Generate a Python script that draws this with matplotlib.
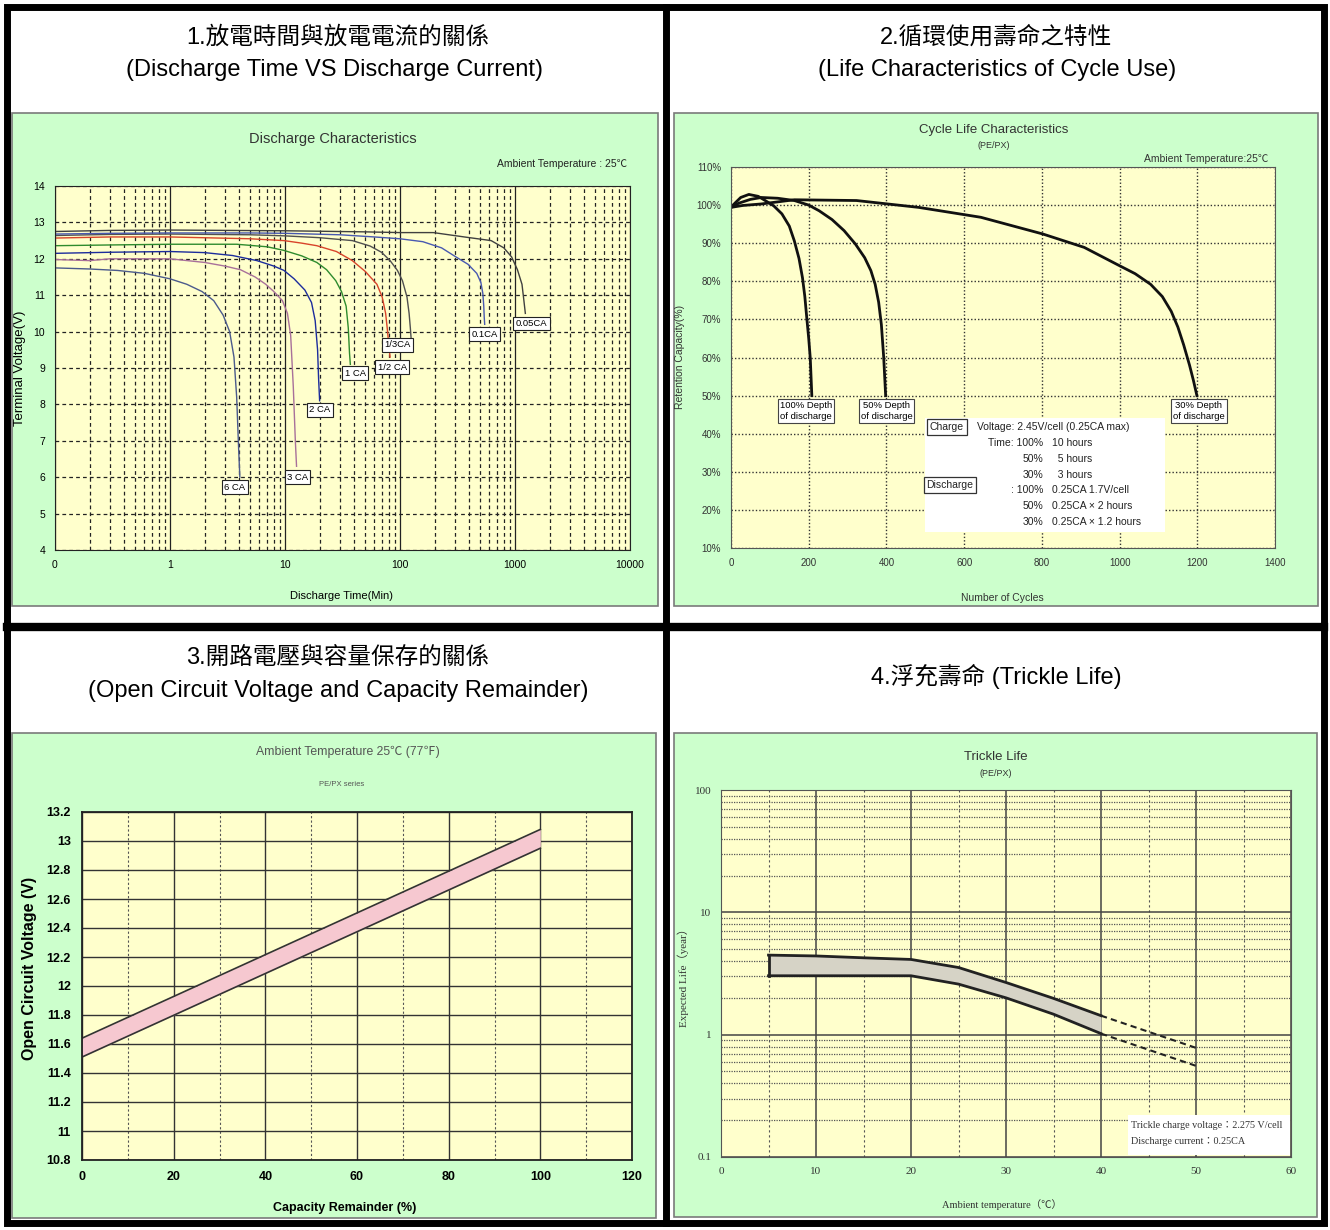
import numpy as np
import matplotlib
matplotlib.use('Agg')
import matplotlib.pyplot as plt
from matplotlib import font_manager
from matplotlib.patches import Rectangle
from matplotlib.ticker import LogLocator, MultipleLocator, NullFormatter

W, H = 1330, 1230

# ---- panel 1 : discharge curves (minutes, volts)
dis_names = ['6 CA', '3 CA', '2 CA', '1 CA', '1/2 CA', '1/3CA', '0.1CA', '0.05CA']
dis_colors = ['#4b5a8c', '#a8709a', '#1c2c9c', '#2e8b2e', '#d8442a', '#505050', '#4858b0', '#404040']
t_6ca = [0.1, 0.2, 0.35, 0.6, 1.0, 1.4, 1.9, 2.4, 2.9, 3.3, 3.6, 3.8, 3.95, 4.05]
v_6ca = [11.75, 11.72, 11.68, 11.6, 11.45, 11.3, 11.1, 10.85, 10.45, 10.0, 9.3, 8.2, 6.8, 6.0]
t_3ca = [0.1, 0.2, 0.3, 0.5, 1.0, 2.0, 3.0, 4.1, 5.5, 6.8, 8.0, 9.5, 10.5, 11.2, 11.8, 12.3, 12.6]
v_3ca = [11.98, 11.95, 12.0, 12.0, 12.0, 11.9, 11.8, 11.7, 11.5, 11.3, 11.1, 10.85, 10.5, 9.9, 8.5, 7.0, 6.3]
t_2ca = [0.1, 0.3, 1.0, 2.0, 3.5, 5.7, 8.0, 9.8, 12.0, 14.9, 17.0, 18.3, 19.2, 19.6, 20.0]
v_2ca = [12.15, 12.18, 12.2, 12.17, 12.09, 11.95, 11.8, 11.68, 11.45, 11.14, 10.8, 10.3, 9.5, 8.7, 8.1]
t_1ca = [0.1, 0.3, 1.0, 3.8, 7.0, 9.8, 14.0, 18.9, 23.0, 27.6, 31.0, 34.0, 35.5, 36.4, 37.0]
v_1ca = [12.36, 12.38, 12.4, 12.4, 12.33, 12.23, 12.08, 11.9, 11.7, 11.4, 11.1, 10.7, 10.1, 9.4, 9.1]
t_half = [0.1, 0.3, 1.0, 5.0, 9.8, 14.0, 18.9, 28.0, 38.5, 50.0, 63.0, 70.0, 75.0, 78.0, 80.0, 82.0]
v_half = [12.57, 12.6, 12.6, 12.55, 12.5, 12.43, 12.36, 12.2, 11.95, 11.65, 11.3, 10.95, 10.5, 10.0, 9.6, 9.3]
t_third = [0.1, 0.3, 1.0, 5.0, 10.0, 20.0, 38.5, 55.0, 69.0, 82.0, 95.0, 105.0, 115.0, 120.0, 123.0, 125.0]
v_third = [12.64, 12.67, 12.68, 12.66, 12.63, 12.58, 12.5, 12.35, 12.18, 11.95, 11.68, 11.4, 10.95, 10.5, 10.1, 9.8]
t_01ca = [0.1, 0.3, 1, 5, 10, 30, 60, 100, 158, 230, 307, 390, 465, 505, 525, 535, 540, 545]
v_01ca = [12.68, 12.7, 12.71, 12.71, 12.7, 12.66, 12.6, 12.55, 12.47, 12.3, 12.05, 11.85, 11.6, 11.35, 11.05, 10.7, 10.4, 10.2]
t_005ca = [0.1, 0.3, 1, 10, 50, 100, 195, 363, 620, 800, 935, 1050, 1150, 1190, 1220, 1230]
v_005ca = [12.75, 12.78, 12.79, 12.77, 12.74, 12.72, 12.72, 12.6, 12.5, 12.3, 12.05, 11.7, 11.3, 10.9, 10.6, 10.5]
dis_t = [t_6ca, t_3ca, t_2ca, t_1ca, t_half, t_third, t_01ca, t_005ca]
dis_v = [v_6ca, v_3ca, v_2ca, v_1ca, v_half, v_third, v_01ca, v_005ca]
time_ticks = [0.1, 1, 10, 100, 1000, 10000]
time_labels = ['0', '1', '10', '100', '1000', '10000']

# ---- panel 2 : cycle life
cyc_names = ['100% Depth\nof discharge', '50% Depth\nof discharge', '30% Depth\nof discharge']
cyc_100_x = [0, 10, 25, 46, 70, 88, 110, 131, 150, 163, 175, 184, 190, 195, 200, 204, 208]
cyc_100_y = [99.4, 100.5, 102.0, 102.8, 102.3, 101.2, 99.8, 97.7, 94.5, 90.6, 86.0, 80.9, 76.0, 70.4, 65.0, 59.8, 50.0]
cyc_50_x = [0, 20, 50, 78, 120, 163, 200, 227, 260, 291, 320, 344, 360, 371, 380, 387, 393, 398]
cyc_50_y = [99.4, 100.5, 101.5, 102.0, 101.8, 101.2, 100.0, 98.5, 96.2, 93.3, 89.8, 86.2, 82.8, 79.2, 74.5, 68.6, 60.0, 50.0]
cyc_30_x = [0, 30, 78, 163, 323, 483, 643, 803, 909, 994, 1040, 1080, 1110, 1133, 1150, 1165, 1180, 1190, 1199]
cyc_30_y = [99.4, 99.9, 100.3, 101.4, 101.2, 99.4, 96.8, 92.4, 88.9, 84.4, 82.0, 79.2, 76.0, 72.1, 68.0, 63.3, 58.0, 54.0, 50.0]
charge_rows = [('Time: 100%', '10 hours'), ('50%', '  5 hours'), ('30%', '  3 hours')]
discharge_rows = [(': 100%', '0.25CA 1.7V/cell'), ('50%', '0.25CA \u00d7 2 hours'), ('30%', '0.25CA \u00d7 1.2 hours')]

# ---- panel 3 : open circuit voltage band
ocv_cap = [0, 100]
ocv_upper = [11.64, 13.08]
ocv_lower = [11.51, 12.95]

# ---- panel 4 : trickle life
tr_temp = [5, 10, 15, 20, 25, 30, 35, 40]
tr_upper = [4.47, 4.4, 4.25, 4.12, 3.54, 2.67, 1.98, 1.43]
tr_lower = [3.03, 3.03, 3.03, 3.03, 2.59, 2.0, 1.47, 1.02]
tr_ext_temp = [40, 50]
tr_ext_upper = [1.43, 0.78]
tr_ext_lower = [1.02, 0.556]

installed = {f.name for f in font_manager.fontManager.ttflist}
SANS = ['Liberation Sans', 'Noto Sans CJK TC', 'DejaVu Sans']
NARROW = (['Liberation Sans Narrow'] if 'Liberation Sans Narrow' in installed else []) + SANS
SERIF = ['Liberation Serif', 'Noto Sans CJK TC', 'DejaVu Sans']
plt.rcParams['font.family'] = SANS

GREEN = '#ccffcc'
YELLOW = '#ffffcc'

fig = plt.figure(figsize=(W / 100, H / 100), dpi=100)

bg = fig.add_axes([0, 0, 1, 1])
bg.set_xlim(0, W)
bg.set_ylim(H, 0)
bg.axis('off')

# green chart boxes
for x0, y0, x1, y1 in [(12, 113, 658, 606), (674, 113, 1318, 606),
                       (12, 733, 656, 1218), (674, 733, 1317, 1217)]:
    bg.add_patch(Rectangle((x0, y0), x1 - x0, y1 - y0, fc=GREEN, ec='#7a7a7a', lw=1.2))

# black frame
bg.add_patch(Rectangle((7, 7), W - 13, H - 14, fill=False, ec='k', lw=5))
bg.plot([666, 666], [7, H - 7], color='k', lw=5)
bg.plot([7, W - 6], [627, 627], color='k', lw=6)

# headers
hdr = dict(ha='center', va='center', fontsize=17, family=SANS)
bg.text(338, 37, '1.放電時間與放電電流的關係', **hdr)
bg.text(334, 70, '(Discharge Time VS Discharge Current)', **hdr)
bg.text(996, 37, '2.循環使用壽命之特性', **hdr)
bg.text(997, 70, '(Life Characteristics of Cycle Use)', **hdr)
bg.text(338, 658, '3.開路電壓與容量保存的關係', **hdr)
bg.text(338, 691, '(Open Circuit Voltage and Capacity Remainder)', **hdr)
bg.text(996, 676, '4.浮充壽命 (Trickle Life)', **hdr)

# chart titles / axis captions on the green boxes
bg.text(333, 139, 'Discharge Characteristics', ha='center', va='center', fontsize=10.5, color='#333333')
bg.text(627, 164, 'Ambient Temperature : 25℃', ha='right', va='center', fontsize=7.5, color='#222222')
bg.text(20, 368, 'Terminal Voltage(V)', ha='center', va='center', rotation=90, fontsize=9.5)
bg.text(342, 596, 'Discharge Time(Min)', ha='center', va='center', fontsize=8)

bg.text(994, 130, 'Cycle Life Characteristics', ha='center', va='center', fontsize=9.5, family=NARROW, color='#333333')
bg.text(994, 146, '(PE/PX)', ha='center', va='center', fontsize=6.5, family=NARROW, color='#333333')
bg.text(1268, 159, 'Ambient Temperature:25℃', ha='right', va='center', fontsize=7.5, family=NARROW, color='#333333')
bg.text(680, 357, 'Retention Capacity(%)', ha='center', va='center', rotation=90, fontsize=7.5, family=NARROW, color='#333333')
bg.text(1002, 598, 'Number of Cycles', ha='center', va='center', fontsize=7.5, family=NARROW, color='#333333')

bg.text(348, 752, 'Ambient Temperature 25℃ (77℉)', ha='center', va='center', fontsize=8.8, family=NARROW, color='#555555')
bg.text(342, 784, 'PE/PX series', ha='center', va='center', fontsize=5.5, color='#555555')
bg.text(30, 968, 'Open Circuit Voltage (V)', ha='center', va='center', rotation=90, fontsize=11.5, fontweight='bold')
bg.text(345, 1208, 'Capacity Remainder (%)', ha='center', va='center', fontsize=9, fontweight='bold')

bg.text(996, 757, 'Trickle Life', ha='center', va='center', fontsize=9.5, family=NARROW, color='#333333')
bg.text(996, 773, '(PE/PX)', ha='center', va='center', fontsize=6.5, family=NARROW, color='#333333')
bg.text(683, 975, 'Expected Life（year）', ha='center', va='center', rotation=90, fontsize=8, family=SERIF, color='#333333')
bg.text(1002, 1205, 'Ambient temperature（℃）', ha='center', va='center', fontsize=7.5, family=SERIF, color='#333333')


def ax_at(x0, y0, x1, y1):
    a = fig.add_axes([x0 / W, 1 - y1 / H, (x1 - x0) / W, (y1 - y0) / H])
    a.set_facecolor(YELLOW)
    a.set_axisbelow(True)
    a.tick_params(which='both', length=0)
    return a


# ---------------- panel 1
ax1 = ax_at(55, 186, 630, 550)
ax1.set_xscale('log')
ax1.set_xlim(0.1, 10000)
ax1.set_ylim(4, 14)
ax1.set_xticks(time_ticks)
ax1.set_xticklabels(time_labels)
ax1.xaxis.set_minor_locator(LogLocator(base=10, subs=np.arange(2, 10)))
ax1.xaxis.set_minor_formatter(NullFormatter())
ax1.set_yticks(np.arange(4, 15))
ax1.tick_params(labelsize=7.5, pad=7)
ax1.grid(which='major', axis='x', color='#222222', lw=0.9, ls='-')
ax1.grid(which='minor', axis='x', color='#222222', lw=0.9, ls=(0, (3, 2.5)))
ax1.grid(which='major', axis='y', color='#222222', lw=0.9, ls=(0, (3, 2.5)))
for s in ax1.spines.values():
    s.set_color('#222222')

offsets = {'6 CA': (-5, -10), '3 CA': (1, -11), '2 CA': (0, -9), '1 CA': (5, -9),
           '1/2 CA': (2, -10), '1/3CA': (-14, -6), '0.1CA': (0, -10), '0.05CA': (6, -10)}
for name, t, v, c in zip(dis_names, dis_t, dis_v, dis_colors):
    ax1.plot(t, v, color=c, lw=1.0)
    ax1.annotate(name, xy=(t[-1], v[-1]), xytext=offsets[name], textcoords='offset pixels',
                 ha='center', va='center', fontsize=6.8,
                 bbox=dict(boxstyle='square,pad=0.25', fc='white', ec='#222222', lw=0.8))

# ---------------- panel 2
ax2 = ax_at(731, 167, 1275, 548)
ax2.set_xlim(0, 1400)
ax2.set_ylim(10, 110)
ax2.set_xticks(np.arange(0, 1401, 200))
ax2.set_yticks(np.arange(10, 111, 10))
ax2.set_yticklabels([f'{v}%' for v in range(10, 111, 10)])
for lab in ax2.get_xticklabels() + ax2.get_yticklabels():
    lab.set_family(NARROW)
    lab.set_fontsize(7)
    lab.set_color('#333333')
ax2.tick_params(pad=7)
ax2.grid(color='#333333', lw=1.0, ls=(0, (1, 1.5)))
for s in ax2.spines.values():
    s.set_color('#555555')

for name, xs, ys, dx in zip(cyc_names, [cyc_100_x, cyc_50_x, cyc_30_x], [cyc_100_y, cyc_50_y, cyc_30_y], [-6, 1, 2]):
    ax2.plot(xs, ys, color='#111111', lw=2.0)
    ax2.annotate(name, xy=(xs[-1], ys[-1]), xytext=(dx, -5), textcoords='offset pixels',
                 ha='center', va='top', fontsize=6.8, family=NARROW, linespacing=1.4,
                 bbox=dict(boxstyle='square,pad=0.2', fc='white', ec='#444444', lw=0.8))

# ---------------- panel 3
ax3 = ax_at(82, 812, 632, 1160)
ax3.set_xlim(0, 120)
ax3.set_ylim(10.8, 13.2)
ax3.set_xticks(np.arange(0, 121, 20))
ax3.xaxis.set_minor_locator(MultipleLocator(10))
yv = np.round(np.arange(10.8, 13.21, 0.2), 1)
ax3.set_yticks(yv)
ax3.set_yticklabels([f'{v:g}' for v in yv])
ax3.tick_params(labelsize=9, pad=8)
for lab in ax3.get_xticklabels() + ax3.get_yticklabels():
    lab.set_fontweight('bold')
ax3.grid(which='major', color='#333333', lw=1.0, ls='-')
ax3.grid(which='minor', axis='x', color='#555555', lw=0.8, ls=(0, (2, 2)))
ax3.fill_between(ocv_cap, ocv_lower, ocv_upper, color='#f6c8d0', lw=0)
ax3.plot(ocv_cap, ocv_upper, color='#333333', lw=1.2)
ax3.plot(ocv_cap, ocv_lower, color='#333333', lw=1.2)
for s in ax3.spines.values():
    s.set_color('#222222')
    s.set_linewidth(1.3)

# ---------------- panel 4
ax4 = ax_at(721, 790, 1291, 1157)
ax4.set_yscale('log')
ax4.set_xlim(0, 60)
ax4.set_ylim(0.1, 100)
ax4.set_xticks(np.arange(0, 61, 10))
ax4.xaxis.set_minor_locator(MultipleLocator(5))
ax4.set_yticks([0.1, 1, 10, 100])
ax4.set_yticklabels(['0.1', '1', '10', '100'])
ax4.yaxis.set_minor_locator(LogLocator(base=10, subs=np.arange(2, 10)))
ax4.yaxis.set_minor_formatter(NullFormatter())
for lab in ax4.get_xticklabels() + ax4.get_yticklabels():
    lab.set_family(SERIF)
    lab.set_fontsize(8)
    lab.set_color('#333333')
ax4.tick_params(pad=7)
ax4.grid(which='major', color='#444444', lw=1.1, ls='-')
ax4.grid(which='minor', axis='x', color='#555555', lw=0.8, ls=(0, (2, 2.5)))
ax4.grid(which='minor', axis='y', color='#555555', lw=0.9, ls=(0, (1, 1)))
ax4.fill_between(tr_temp, tr_lower, tr_upper, color='#d6d3c6', lw=0)
ax4.plot(tr_temp, tr_upper, color='#222222', lw=2.0)
ax4.plot(tr_temp, tr_lower, color='#222222', lw=2.0)
ax4.plot([tr_temp[0], tr_temp[0]], [tr_lower[0], tr_upper[0]], color='#222222', lw=2.0)
ax4.plot(tr_ext_temp, tr_ext_upper, color='#222222', lw=1.5, ls=(0, (3, 2)))
ax4.plot(tr_ext_temp, tr_ext_lower, color='#222222', lw=1.5, ls=(0, (3, 2)))
for s in ax4.spines.values():
    s.set_color('#555555')

# ---------------- overlay notes
ov = fig.add_axes([0, 0, 1, 1])
ov.set_xlim(0, W)
ov.set_ylim(H, 0)
ov.axis('off')
ov.patch.set_alpha(0)

ov.add_patch(Rectangle((925, 418), 240, 114, fc='white', ec='none'))
note = dict(va='center', fontsize=7.5, family=NARROW, color='#222222')
boxed = dict(boxstyle='square,pad=0.25', fc='white', ec='#333333', lw=0.9)
ov.text(947, 427, 'Charge', ha='center', bbox=boxed, **note)
ov.text(950, 485, 'Discharge', ha='center', bbox=boxed, **note)
ov.text(977, 427, 'Voltage: 2.45V/cell (0.25CA max)', ha='left', **note)
row_y = 443
for pct, txt in charge_rows + discharge_rows:
    ov.text(1043, row_y, pct, ha='right', **note)
    ov.text(1052, row_y, txt, ha='left', **note)
    row_y += 15.8

ov.add_patch(Rectangle((1128, 1115), 162, 40, fc='white', ec='none'))
ov.text(1131, 1125, 'Trickle charge voltage：2.275 V/cell', ha='left', va='center', fontsize=7.3, family=SERIF, color='#333333')
ov.text(1131, 1142, 'Discharge current：0.25CA', ha='left', va='center', fontsize=7.3, family=SERIF, color='#333333')

fig.savefig('out.png', dpi=100)
